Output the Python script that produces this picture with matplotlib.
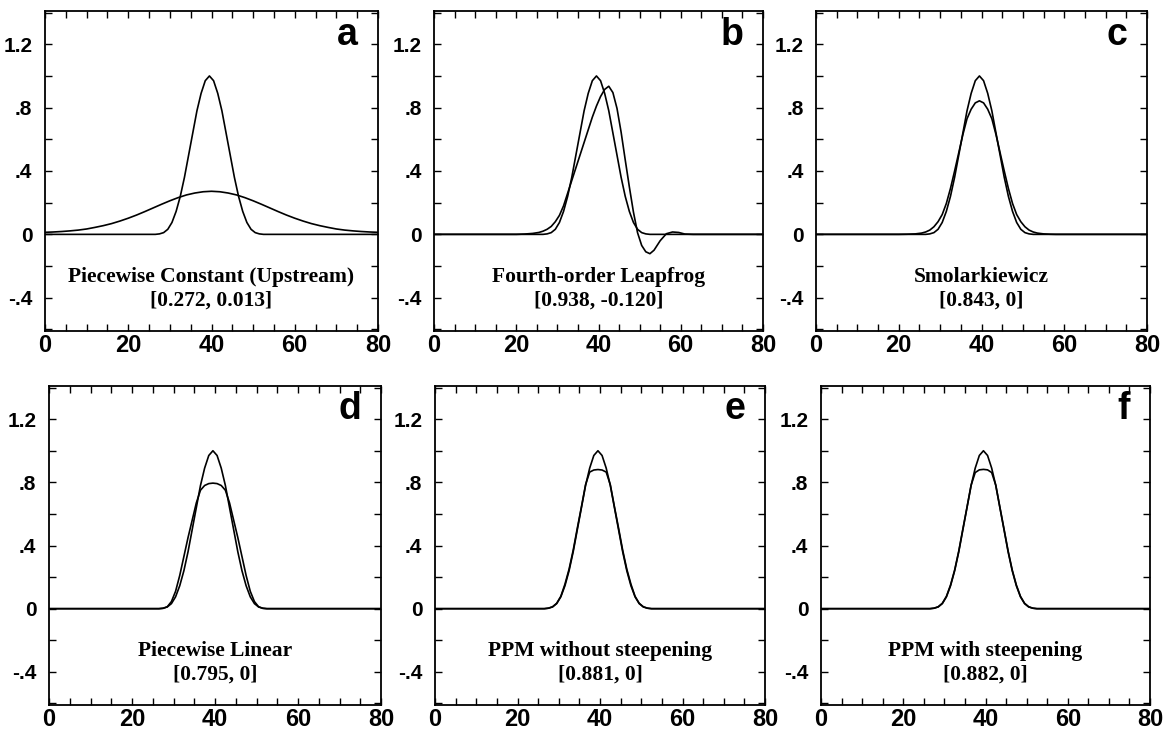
import matplotlib
matplotlib.use("Agg")
import matplotlib.pyplot as plt

plt.rcParams['font.family'] = ['Liberation Sans', 'DejaVu Sans']

# --- data ---
# common grid (exact pulse centred near x = 39.5)
x = [0, 8, 16, 20, 22, 24,
     25.5, 26.5, 27.5, 28.5, 29.5, 30.5, 31.5, 32.5, 33.5, 34.5,
     35.5, 36.5, 37.5, 38.5, 39.5, 40.5, 41.5, 42.5, 43.5, 44.5,
     45.5, 46.5, 47.5, 48.5, 49.5, 50.5, 51.5, 52.5, 53.5,
     55, 56.5, 58, 59.5, 61, 63, 68, 74, 80]

exact = [0, 0, 0, 0, 0, 0,
         0, 0, 0.003, 0.011, 0.032, 0.075, 0.145, 0.24, 0.36, 0.50,
         0.64, 0.78, 0.89, 0.97, 1.00, 0.97, 0.89, 0.78, 0.64, 0.50,
         0.36, 0.24, 0.145, 0.075, 0.032, 0.011, 0.003, 0, 0,
         0, 0, 0, 0, 0, 0, 0, 0, 0]

leapfrog = [0, 0, 0, 0, 0.002, 0.006,
            0.012, 0.02, 0.032, 0.05, 0.08, 0.12, 0.18, 0.26, 0.34, 0.42,
            0.50, 0.58, 0.66, 0.74, 0.81, 0.87, 0.915, 0.935, 0.895, 0.795,
            0.645, 0.47, 0.30, 0.14, 0.01, -0.07, -0.11, -0.122, -0.10,
            -0.04, 0.004, 0.015, 0.012, 0.002, 0, 0, 0, 0]

smolar = [0, 0, 0, 0, 0.001, 0.003,
          0.008, 0.015, 0.027, 0.048, 0.08, 0.125, 0.195, 0.29, 0.40, 0.515,
          0.63, 0.73, 0.79, 0.83, 0.843, 0.83, 0.79, 0.73, 0.63, 0.515,
          0.40, 0.29, 0.195, 0.125, 0.08, 0.048, 0.027, 0.015, 0.008,
          0.003, 0.001, 0, 0, 0, 0, 0, 0, 0]

pw_linear = [0, 0, 0, 0, 0, 0,
             0, 0, 0.002, 0.012, 0.045, 0.11, 0.21, 0.33, 0.45, 0.56,
             0.67, 0.75, 0.78, 0.792, 0.795, 0.792, 0.78, 0.75, 0.67, 0.56,
             0.45, 0.33, 0.21, 0.11, 0.045, 0.012, 0.002, 0, 0,
             0, 0, 0, 0, 0, 0, 0, 0, 0]

ppm_nosteep = [0, 0, 0, 0, 0, 0,
               0, 0, 0.003, 0.012, 0.034, 0.078, 0.155, 0.25, 0.37, 0.51,
               0.645, 0.785, 0.865, 0.878, 0.881, 0.878, 0.865, 0.785, 0.645, 0.51,
               0.37, 0.25, 0.155, 0.078, 0.034, 0.012, 0.003, 0, 0,
               0, 0, 0, 0, 0, 0, 0, 0, 0]

ppm_steep = [0, 0, 0, 0, 0, 0,
             0, 0, 0.003, 0.012, 0.034, 0.078, 0.15, 0.245, 0.365, 0.505,
             0.642, 0.782, 0.862, 0.879, 0.882, 0.879, 0.862, 0.782, 0.642, 0.505,
             0.365, 0.245, 0.15, 0.078, 0.034, 0.012, 0.003, 0, 0,
             0, 0, 0, 0, 0, 0, 0, 0, 0]

# upstream result is much broader, own grid
x_up = list(range(0, 81, 2))
upstream = [0.013, 0.015, 0.018, 0.022, 0.027, 0.034, 0.044, 0.055, 0.068, 0.084,
            0.102, 0.122, 0.144, 0.167, 0.190, 0.212, 0.232, 0.249, 0.261, 0.269,
            0.272, 0.269, 0.261, 0.249, 0.232, 0.212, 0.190, 0.167, 0.144, 0.122,
            0.102, 0.084, 0.068, 0.055, 0.044, 0.034, 0.027, 0.022, 0.018, 0.015,
            0.013]

letters = ['a', 'b', 'c', 'd', 'e', 'f']
names = ['Piecewise Constant (Upstream)', 'Fourth-order Leapfrog', 'Smolarkiewicz',
         'Piecewise Linear', 'PPM without steepening', 'PPM with steepening']
stats = ['[0.272, 0.013]', '[0.938, -0.120]', '[0.843, 0]',
         '[0.795, 0]', '[0.881, 0]', '[0.882, 0]']

yticks = [-0.4, 0, 0.4, 0.8, 1.2]
ylabels = ['-.4', '0', '.4', '.8', '1.2']
xticks = [0, 20, 40, 60, 80]

# --- figure ---
fig = plt.figure(figsize=(11.7, 7.34), dpi=100)

# axes rectangles in pixels: left, right, top, bottom
boxes = [(45, 378, 11, 331), (434, 763, 11, 331), (816, 1147, 11, 331),
         (49, 381, 386, 705), (435, 765, 386, 705), (821, 1150, 386, 705)]

curves = [(x_up, upstream), (x, leapfrog), (x, smolar),
          (x, pw_linear), (x, ppm_nosteep), (x, ppm_steep)]

serif = ['Liberation Serif', 'DejaVu Serif']

for i, (l, r, t, b) in enumerate(boxes):
    W, H = 1170.0, 734.0
    ax = fig.add_axes([l / W, 1 - b / H, (r - l) / W, (b - t) / H])
    ax.plot(x, exact, color='black', lw=1.2)
    cx, cy = curves[i]
    ax.plot(cx, cy, color='black', lw=1.2)

    ax.set_xlim(0, 80)
    ax.set_ylim(-0.61, 1.41)
    ax.set_xticks(xticks)
    ax.set_xticklabels([str(v) for v in xticks])
    ax.set_xticks(range(0, 81, 5), minor=True)
    ax.set_yticks(yticks)
    ax.set_yticklabels(ylabels)
    ax.set_yticks([-0.6, -0.2, 0.2, 0.6, 1.0, 1.4], minor=True)
    ax.tick_params(which='both', direction='in', top=True, right=True,
                   length=5, width=1)
    ax.tick_params(axis='x', which='major', labelsize=17, pad=2)
    ax.tick_params(axis='y', which='major', labelsize=15, pad=9)
    for lab in ax.get_xticklabels() + ax.get_yticklabels():
        lab.set_fontweight('bold')
    for s in ax.spines.values():
        s.set_linewidth(1.3)

    ax.text(0.94, 0.895, letters[i], transform=ax.transAxes, ha='right',
            va='baseline', fontsize=27, fontweight='bold')
    ax.text(40, -0.27, names[i], ha='center', va='center', fontsize=15.5,
            fontweight='bold', family=serif)
    ax.text(40, -0.42, stats[i], ha='center', va='center', fontsize=15.5,
            fontweight='bold', family=serif)

fig.savefig('out.png', dpi=100)
